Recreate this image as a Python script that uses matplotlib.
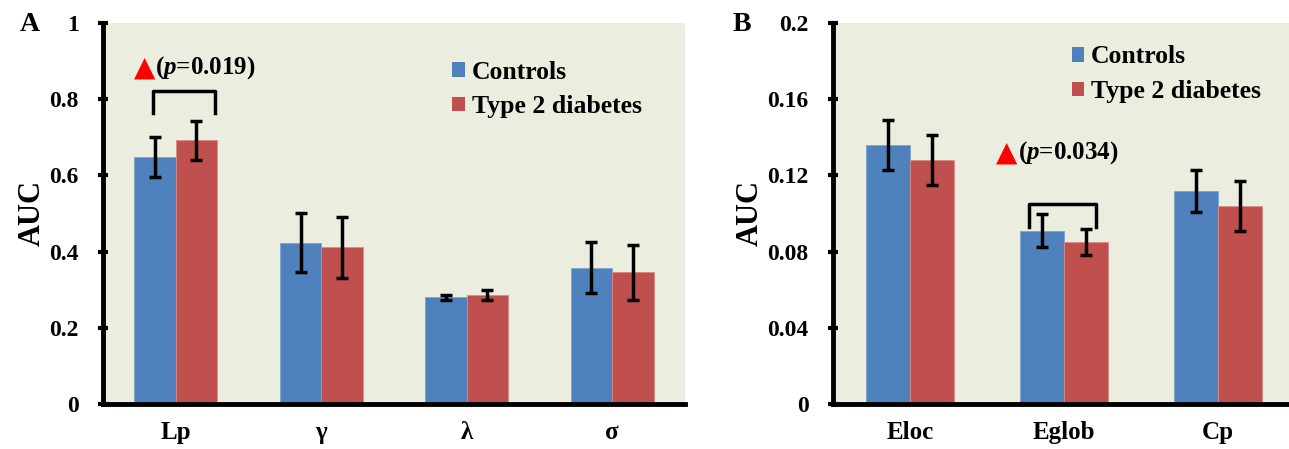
import matplotlib
matplotlib.use("Agg")
import matplotlib.pyplot as plt
from matplotlib.patches import Patch

plt.rcParams['font.family'] = ['Liberation Serif', 'DejaVu Sans']
plt.rcParams['font.weight'] = 'bold'
plt.rcParams['mathtext.fontset'] = 'custom'
plt.rcParams['mathtext.rm'] = 'Liberation Serif:bold'
plt.rcParams['mathtext.it'] = 'Liberation Serif:bold:italic'
plt.rcParams['mathtext.bf'] = 'Liberation Serif:bold'

# ---- data ----
cats_a = ['Lp', 'γ', 'λ', 'σ']
ctrl_a = [0.648, 0.423, 0.280, 0.358]
ctrl_a_err = [0.052, 0.077, 0.007, 0.066]
t2d_a = [0.692, 0.412, 0.286, 0.346]
t2d_a_err = [0.052, 0.080, 0.013, 0.072]
yticks_a = [0, 0.2, 0.4, 0.6, 0.8, 1]
yticklabels_a = ['0', '0.2', '0.4', '0.6', '0.8', '1']

cats_b = ['Eloc', 'Eglob', 'Cp']
ctrl_b = [0.136, 0.091, 0.112]
ctrl_b_err = [0.013, 0.0085, 0.011]
t2d_b = [0.128, 0.085, 0.104]
t2d_b_err = [0.013, 0.007, 0.013]
yticks_b = [0, 0.04, 0.08, 0.12, 0.16, 0.2]
yticklabels_b = ['0', '0.04', '0.08', '0.12', '0.16', '0.2']

series_names = ['Controls', 'Type 2 diabetes']
p_a = '0.019'
p_b = '0.034'

BLUE = '#4F81BD'
RED = '#C0504D'
BG = '#EBEEDF'

fig = plt.figure(figsize=(12.89, 4.49), dpi=100)
ax_a = fig.add_axes([0.0799, 0.1002, 0.4515, 0.8486])
ax_b = fig.add_axes([0.6462, 0.1002, 0.3584, 0.8486])

W = 0.285

def draw(ax, cats, c, ce, t, te, yt, ytl, ymax):
    x = list(range(len(cats)))
    ax.set_facecolor(BG)
    ax.bar([i - W / 2 for i in x], c, W, color=BLUE, edgecolor='#7EA3CF', linewidth=0.6, zorder=2)
    ax.bar([i + W / 2 for i in x], t, W, color=RED, edgecolor='#D88A88', linewidth=0.6, zorder=2)
    ax.errorbar([i - W / 2 for i in x], c, yerr=ce, fmt='none', ecolor='black',
                elinewidth=2.5, capsize=4, capthick=2.5, zorder=3)
    ax.errorbar([i + W / 2 for i in x], t, yerr=te, fmt='none', ecolor='black',
                elinewidth=2.5, capsize=4, capthick=2.5, zorder=3)
    ax.set_xlim(-0.5, len(cats) - 0.5)
    ax.set_ylim(0, ymax)
    ax.set_xticks(x)
    ax.set_xticklabels(cats, fontsize=18, fontweight='bold')
    ax.set_yticks(yt)
    ax.set_yticklabels(ytl, fontsize=17, fontweight='bold')
    ax.tick_params(axis='x', length=0, pad=12)
    ax.tick_params(axis='y', direction='inout', length=7, width=3, pad=14)
    for s in ['top', 'right']:
        ax.spines[s].set_visible(False)
    for s in ['left', 'bottom']:
        ax.spines[s].set_linewidth(3.5)
    ax.spines['left'].set_capstyle('projecting')
    ax.set_ylabel('AUC', fontsize=22, fontweight='bold', labelpad=2)
    handles = [Patch(facecolor=BLUE), Patch(facecolor=RED)]
    return handles

leg_prop = {'family': 'Liberation Serif', 'weight': 'bold', 'size': 18.5}
h = draw(ax_a, cats_a, ctrl_a, ctrl_a_err, t2d_a, t2d_a_err, yticks_a, yticklabels_a, 1.0)
ax_a.legend(h, series_names, loc='upper left', bbox_to_anchor=(0.565, 0.955), frameon=False,
            prop=leg_prop, handlelength=0.5, handleheight=0.5, handletextpad=0.25,
            labelspacing=0.45, borderpad=0.3)
h = draw(ax_b, cats_b, ctrl_b, ctrl_b_err, t2d_b, t2d_b_err, yticks_b, yticklabels_b, 0.2)
ax_b.legend(h, series_names, loc='upper left', bbox_to_anchor=(0.472, 0.995), frameon=False,
            prop=leg_prop, handlelength=0.5, handleheight=0.5, handletextpad=0.25,
            labelspacing=0.45, borderpad=0.3)

# significance annotations
ax_a.plot([-0.156, -0.156, 0.27, 0.27], [0.765, 0.821, 0.821, 0.765], color='black', lw=2.5, zorder=4)
ax_a.text(-0.14, 0.884, '▲', color='red', fontsize=20, family='DejaVu Sans', ha='right', va='center')
ax_a.text(-0.14, 0.884, '($p$=' + p_a + ')', fontsize=18, ha='left', va='center')

ax_b.plot([0.773, 0.773, 1.208, 1.208], [0.0929, 0.105, 0.105, 0.0929], color='black', lw=2.5, zorder=4)
ax_b.text(0.70, 0.1318, '▲', color='red', fontsize=20, family='DejaVu Sans', ha='right', va='center')
ax_b.text(0.70, 0.1318, '($p$=' + p_b + ')', fontsize=18, ha='left', va='center')

fig.text(0.015, 0.945, 'A', fontsize=20, fontweight='bold', va='center')
fig.text(0.568, 0.945, 'B', fontsize=20, fontweight='bold', va='center')

fig.savefig('out.png', dpi=100)
